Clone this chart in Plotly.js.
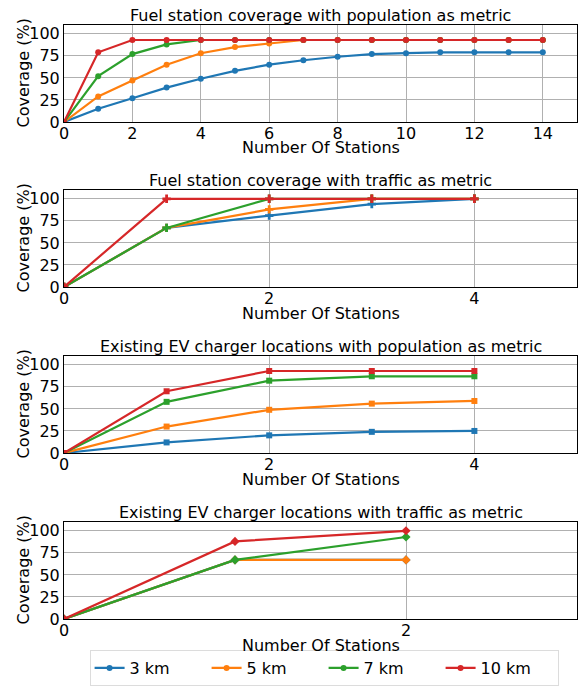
<!DOCTYPE html>
<html><head><meta charset="utf-8">
<script src="https://cdn.plot.ly/plotly-3.0.1.min.js"></script>
<style>body{margin:0;padding:0;background:#fff}#chart{width:579px;height:686px}</style>
</head><body><div id="chart"></div>
<script>
const seriesNames = ["3 km", "5 km", "7 km", "10 km"];
const colors = ["#1f77b4", "#ff7f0e", "#2ca02c", "#d62728"];

// Plot 1: Fuel station coverage with population as metric
const x1 = [0,1,2,3,4,5,6,7,8,9,10,11,12,13,14];
const p1_3km  = [0,15,27,39,49,58,65,70,74,77,78,79,79,79,79];
const p1_5km  = [0,29,47,65,78,85,89,93,93,93,93,93,93,93,93];
const p1_7km  = [0,52,77,88,93,93,93,93,93,93,93,93,93,93,93];
const p1_10km = [0,79,93,93,93,93,93,93,93,93,93,93,93,93,93];

// Plot 2: Fuel station coverage with traffic as metric
const x2 = [0,1,2,3,4];
const p2_3km  = [0,67,81,94,100];
const p2_5km  = [0,67,88,100,100];
const p2_7km  = [0,67,100,100,100];
const p2_10km = [0,100,100,100,100];

// Plot 3: Existing EV charger locations with population as metric
const x3 = [0,1,2,3,4];
const p3_3km  = [0,12,20,24,25];
const p3_5km  = [0,30,49,56,59];
const p3_7km  = [0,58,82,87,87];
const p3_10km = [0,70,93,93,93];

// Plot 4: Existing EV charger locations with traffic as metric
const x4 = [0,1,2];
const p4_3km  = [0,67,67];
const p4_5km  = [0,67,67];
const p4_7km  = [0,67,93];
const p4_10km = [0,88,100];

const titles = [
  "Fuel station coverage with population as metric",
  "Fuel station coverage with traffic as metric",
  "Existing EV charger locations with population as metric",
  "Existing EV charger locations with traffic as metric"
];
const xAxisTitle = "Number Of Stations";
const yAxisTitle = "Coverage (%)";
const xTickVals = [[0,2,4,6,8,10,12,14],[0,2,4],[0,2,4],[0,2]];
const xRanges = [[0,15],[0,5],[0,5],[0,3]];
const yTickVals = [0,25,50,75,100];

const panels = [
  {x:x1, ys:[p1_3km,p1_5km,p1_7km,p1_10km], sym:"circle", size:6},
  {x:x2, ys:[p2_3km,p2_5km,p2_7km,p2_10km], sym:"cross", size:7},
  {x:x3, ys:[p3_3km,p3_5km,p3_7km,p3_10km], sym:"square", size:6},
  {x:x4, ys:[p4_3km,p4_5km,p4_7km,p4_10km], sym:"diamond", size:7}
];

// pixel geometry of plot frames (top, bottom) in a 686px tall figure
const H = 686, L = 64, PW = 513;
const frames = [[25,122],[190,287],[356,453],[522,619]];

const data = [];
panels.forEach((p, i) => {
  p.ys.forEach((y, k) => {
    data.push({
      x: p.x, y: y, type: "scatter", mode: "lines+markers",
      name: seriesNames[k], legendgroup: seriesNames[k],
      showlegend: i === 0,
      xaxis: i === 0 ? "x" : "x" + (i+1),
      yaxis: i === 0 ? "y" : "y" + (i+1),
      line: {color: colors[k], width: 2.2},
      marker: {color: colors[k], symbol: p.sym, size: p.size}
    });
  });
});

const F = "DejaVu Sans";
const layout = {
  width: 579, height: 686,
  margin: {l: L, r: 2, t: 0, b: 0},
  paper_bgcolor: "#fff", plot_bgcolor: "#fff",
  font: {family: F, size: 16, color: "#000"},
  showlegend: true,
  legend: {
    orientation: "h", x: 0.507, xanchor: "center", y: 0, yanchor: "bottom",
    bordercolor: "#dcdcdc", borderwidth: 1,
    font: {family: F, size: 16, color: "#000"},
    entrywidth: 72, entrywidthmode: "pixels", tracegroupgap: 0
  },
  annotations: []
};

frames.forEach((f, i) => {
  const xa = i === 0 ? "xaxis" : "xaxis" + (i+1);
  const ya = i === 0 ? "yaxis" : "yaxis" + (i+1);
  const yname = i === 0 ? "y" : "y" + (i+1);
  const xname = i === 0 ? "x" : "x" + (i+1);
  const d0 = 1 - f[1]/H, d1 = 1 - f[0]/H;
  layout[xa] = {
    domain: [0, 1], anchor: yname, range: xRanges[i],
    tickvals: xTickVals[i], ticks: "", showline: true, mirror: true,
    linecolor: "#000", linewidth: 1, showgrid: true, gridcolor: "#b0b0b0", gridwidth: 1,
    zeroline: false, tickfont: {family: F, size: 16, color: "#000"},
    ticklabelstandoff: -3,
    automargin: false
  };
  layout[ya] = {
    domain: [d0, d1], anchor: xname, range: [0, 110],
    tickvals: yTickVals, ticks: "", showline: true, mirror: true,
    linecolor: "#000", linewidth: 1, showgrid: true, gridcolor: "#b0b0b0", gridwidth: 1,
    zeroline: false, tickfont: {family: F, size: 16, color: "#000"},
    automargin: false
  };
  // subplot title
  layout.annotations.push({
    text: titles[i], xref: "paper", yref: "paper",
    x: 0.5, y: d1, xanchor: "center", yanchor: "bottom", yshift: -2,
    showarrow: false, font: {family: F, size: 16, color: "#000"}
  });
  // x axis title
  layout.annotations.push({
    text: xAxisTitle, xref: "paper", yref: "paper",
    x: 0.5, y: 1 - (f[1] + 26)/H, xanchor: "center", yanchor: "middle",
    showarrow: false, font: {family: F, size: 16, color: "#000"}
  });
  // y axis title
  layout.annotations.push({
    text: yAxisTitle, xref: "paper", yref: "paper", textangle: -90,
    x: (23 - L)/PW, y: 1 - ((f[0] + f[1]) / 2)/H, xanchor: "center", yanchor: "middle",
    showarrow: false, font: {family: F, size: 16, color: "#000"}
  });
});

Plotly.newPlot("chart", data, layout, {displayModeBar: false, staticPlot: true});
</script></body></html>
